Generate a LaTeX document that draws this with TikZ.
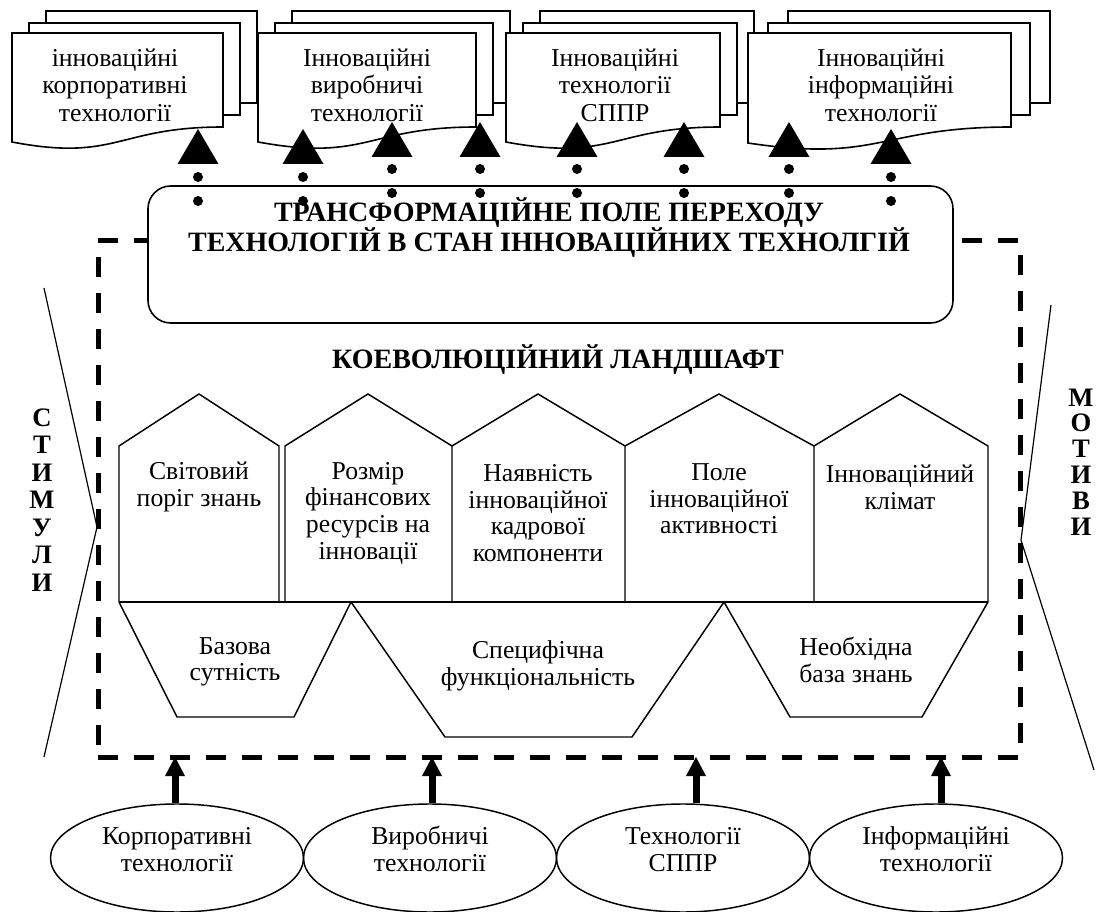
\documentclass[tikz,border=0pt]{standalone}
\usepackage{fontspec}
\setmainfont{Liberation Serif}
\usetikzlibrary{arrows.meta,shapes.geometric}

\tikzset{
  sheet/.style={draw, fill=white, line width=1.2pt},
  outline/.style={draw, line width=1.1pt},
  chevron/.style={draw, line width=0.9pt},
  boxtext/.style={align=center, inner sep=0pt, font=\fontsize{19.3}{20}\selectfont},
  doctext/.style={align=center, inner sep=0pt, font=\fontsize{19.3}{20.6}\selectfont},
  headtext/.style={align=center, inner sep=0pt, font=\fontsize{21}{22.5}\selectfont\bfseries},
  sidetext/.style={align=center, inner sep=0pt, font=\fontsize{20}{20.6}\selectfont\bfseries},
  landframe/.style={draw, dash pattern=on 15pt off 12pt, line width=3.75pt,
    minimum width=691.5pt, minimum height=387pt, inner sep=0pt},
  fieldbox/.style={draw, fill=white, rounded corners=17pt, line width=1.2pt,
    minimum width=603.75pt, minimum height=102.75pt, inner sep=0pt},
  techsource/.style={draw, ellipse, line width=1.1pt, minimum width=189.75pt,
    minimum height=81pt, inner sep=0pt, align=center, font=\fontsize{19.3}{20.25}\selectfont,
    execute at begin node={\rule{0pt}{17pt}}, execute at end node={\rule[-13.5pt]{0pt}{0pt}}},
  dotarrow/.style={line width=7.5pt, line cap=round, dash pattern=on 0pt off 18pt,
    -{Triangle[length=26.25pt, width=30.75pt, line width=0pt]}},
  uparrow/.style={line width=5.25pt, -{Triangle[length=14.25pt, width=15pt, line width=0pt]}}
}

\begin{document}
\begin{tikzpicture}[x=0.75pt, y=-0.75pt]
\useasboundingbox (0,0) rectangle (1096,912);

% dashed landscape and the side wedges
\node[landframe] (land) at (559,499) {};
\draw[chevron] (44,288) -- (97,527) -- (44,757);
\draw[chevron] (1051,305) -- (1021,540) -- (1094,770);
\node[sidetext] (stimuli) at (42,500) {С\\Т\\И\\М\\У\\Л\\И};
\node[sidetext, font=\fontsize{20}{19.4}\selectfont\bfseries] (motives) at (1081,462) {М\\О\\Т\\И\\В\\И};

% stacks of documents
\draw[sheet] (46,11) rectangle (257,103);
\draw[sheet] (29,23) rectangle (240,115);
\draw[sheet] (12,142) -- (12,33) -- (223,33) -- (223,127) .. controls (117,127) and (117,162) .. (12,142) -- cycle;
\node[doctext] (doc1) at (115,85) {інноваційні\\корпоративні\\технології};

\draw[sheet] (292,11) rectangle (510,103);
\draw[sheet] (275,23) rectangle (493,115);
\draw[sheet] (258,142) -- (258,33) -- (476,33) -- (476,127) .. controls (367,127) and (367,162) .. (258,142) -- cycle;
\node[doctext] (doc2) at (367,85) {Інноваційні\\виробничі\\технології};

\draw[sheet] (540,11) rectangle (754,103);
\draw[sheet] (523,23) rectangle (737,115);
\draw[sheet] (506,142) -- (506,33) -- (720,33) -- (720,127) .. controls (613,127) and (613,162) .. (506,142) -- cycle;
\node[doctext] (doc3) at (615,85) {Інноваційні\\технології\\СППР};

\draw[sheet] (788,11) rectangle (1050,103);
\draw[sheet] (768,23) rectangle (1030,115);
\draw[sheet] (748,143) -- (748,33) -- (1011,33) -- (1011,127) .. controls (880,127) and (880,163) .. (748,143) -- cycle;
\node[doctext] (doc4) at (881,85) {Інноваційні\\інформаційні\\технології};

% transformation field
\node[fieldbox] (field) at (550.5,254.5) {};
\node[headtext] (fieldtitle) at (549,228) {ТРАНСФОРМАЦІЙНЕ ПОЛЕ ПЕРЕХОДУ\\ТЕХНОЛОГІЙ В СТАН ІННОВАЦІЙНИХ ТЕХНОЛГІЙ};

\foreach \x/\s/\e in {198/201/129, 303/201/129, 392/193/122, 480/193/122,
                      577/193/122, 684/193/122, 789/193/122, 891/201/129}{
  \coordinate (from\x) at (\x,\s);
  \coordinate (to\x) at (\x,\e);
  \draw[dotarrow] (from\x) -- (to\x);
}

\node[headtext] (coevo) at (558,360) {КОЕВОЛЮЦІЙНИЙ ЛАНДШАФТ};

% houses
\draw[outline] (119,602) -- (119,446) -- (199,394) -- (279,446) -- (279,602);
\draw[outline] (285,602) -- (285,446) -- (368,394) -- (452,446) -- (452,602);
\draw[outline] (452,446) -- (538,394) -- (625,446) -- (625,602);
\draw[outline] (625,446) -- (719,394) -- (814,446) -- (814,602);
\draw[outline] (814,446) -- (900,394) -- (988,446) -- (988,602);
\draw[outline] (119,602) -- (988,602);
\node[boxtext] (world) at (199,487) {Світовий\\поріг знань};
\node[boxtext] (finance) at (368,513) {Розмір\\фінансових\\ресурсів на\\інновації};
\node[boxtext] (staff) at (538,513) {Наявність\\інноваційної\\кадрової\\компоненти};
\node[boxtext] (activity) at (719,499) {Поле\\інноваційної\\активності};
\node[boxtext] (climate) at (900,487) {Інноваційний\\клімат};

% funnels below the houses
\draw[outline] (119,602) -- (177,717) -- (294,717) -- (351,602);
\draw[outline] (351,602) -- (445,737) -- (632,737) -- (724,602);
\draw[outline] (724,602) -- (790,717) -- (922,717) -- (988,602);
\node[boxtext] (base) at (235,662) {Базова\\сутність};
\node[boxtext] (specific) at (538,666) {Специфічна\\функціональність};
\node[boxtext] (knowledge) at (856,660) {Необхідна\\база знань};

% source technologies
\node[techsource] (corp) at (177,858) {Корпоративні\\технології};
\node[techsource] (prod) at (430,858) {Виробничі\\технології};
\node[techsource] (dss) at (683,858) {Технології\\СППР};
\node[techsource] (info) at (936,858) {Інформаційні\\технології};

\coordinate (in1) at (175,757);
\coordinate (in2) at (432,757);
\coordinate (in3) at (696,757);
\coordinate (in4) at (941,757);
\draw[uparrow] (in1 |- corp.north) -- (in1);
\draw[uparrow] (in2 |- prod.north) -- (in2);
\draw[uparrow] (in3 |- dss.north) -- (in3);
\draw[uparrow] (in4 |- info.north) -- (in4);
\end{tikzpicture}
\end{document}
